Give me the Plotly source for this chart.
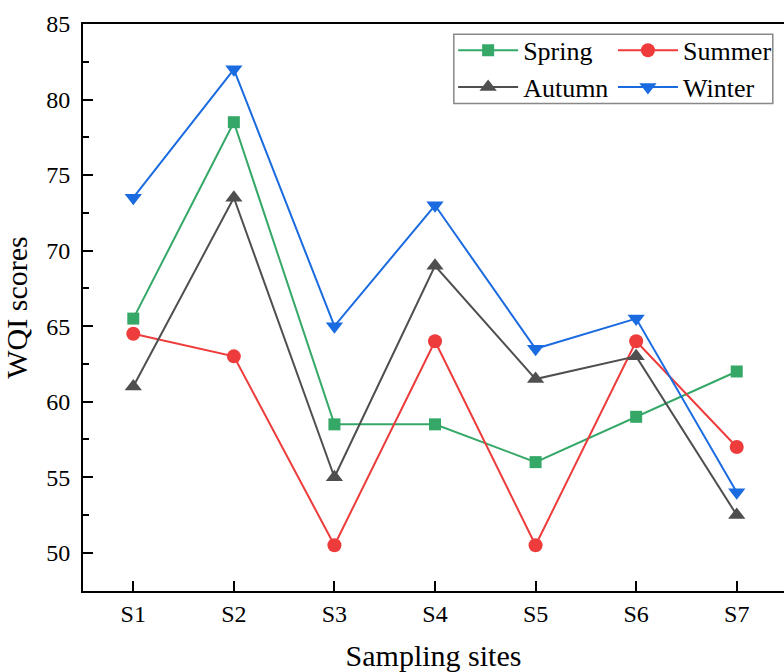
import plotly.graph_objects as go

sites = ["S1", "S2", "S3", "S4", "S5", "S6", "S7"]
spring = [65.5, 78.5, 58.5, 58.5, 56.0, 59.0, 62.0]
summer = [64.5, 63.0, 50.5, 64.0, 50.5, 64.0, 57.0]
autumn = [61.0, 73.5, 55.0, 69.0, 61.5, 63.0, 52.5]
winter = [73.5, 82.0, 65.0, 73.0, 63.5, 65.5, 54.0]

xpos = list(range(1, len(sites) + 1))
FONT = "Liberation Serif, Times New Roman, serif"

series = [
    ("Spring", spring, "#35A868", "square", 12, "legend"),
    ("Summer", summer, "#EE3B3B", "circle", 14, "legend2"),
    ("Autumn", autumn, "#4F4F4F", "triangle-up", 15, "legend"),
    ("Winter", winter, "#1A6BE0", "triangle-down", 15, "legend2"),
]

fig = go.Figure()
for name, vals, col, sym, sz, lg in series:
    fig.add_trace(go.Scatter(
        x=xpos, y=vals, name=name, mode="lines+markers",
        line=dict(color=col, width=2),
        marker=dict(color=col, symbol=sym, size=sz),
        legend=lg,
    ))

leg_common = dict(
    orientation="v", xanchor="left", yanchor="top", y=0.995,
    font=dict(family=FONT, size=26, color="black"),
    bgcolor="rgba(0,0,0,0)", borderwidth=0,
    itemwidth=60, tracegroupgap=0,
)

fig.update_layout(
    width=784, height=672,
    margin=dict(l=83, r=0, t=24, b=81),
    paper_bgcolor="white", plot_bgcolor="white",
    font=dict(family=FONT, size=24, color="black"),
    showlegend=True,
    legend=dict(x=0.528, **leg_common),
    legend2=dict(x=0.756, **leg_common),
    xaxis=dict(
        range=[0.5, 7.47], tickvals=xpos, ticktext=sites,
        showgrid=False, zeroline=False,
        showline=True, linecolor="black", linewidth=2, mirror=True,
        ticks="inside", ticklen=10, tickwidth=2, tickcolor="black",
        tickfont=dict(family=FONT, size=24),
        ticklabelstandoff=0,
        title=dict(text="Sampling sites", font=dict(family=FONT, size=30), standoff=24),
    ),
    yaxis=dict(
        range=[47.47, 85], tickvals=[50, 55, 60, 65, 70, 75, 80, 85],
        showgrid=False, zeroline=False,
        showline=True, linecolor="black", linewidth=2,
        ticks="inside", ticklen=10, tickwidth=2, tickcolor="black",
        minor=dict(ticks="inside", ticklen=6, tickwidth=2, tickcolor="black",
                   tickvals=[47.5, 52.5, 57.5, 62.5, 67.5, 72.5, 77.5, 82.5]),
        tickfont=dict(family=FONT, size=24),
        ticklabelstandoff=6,
        title=dict(text="WQI scores", font=dict(family=FONT, size=30), standoff=10),
    ),
    shapes=[dict(type="rect", xref="paper", yref="paper",
                 x0=0.529, x1=0.984, y0=0.860, y1=0.982,
                 line=dict(color="#888888", width=1.5), fillcolor="rgba(0,0,0,0)")],
)

fig.write_html("out.html")
